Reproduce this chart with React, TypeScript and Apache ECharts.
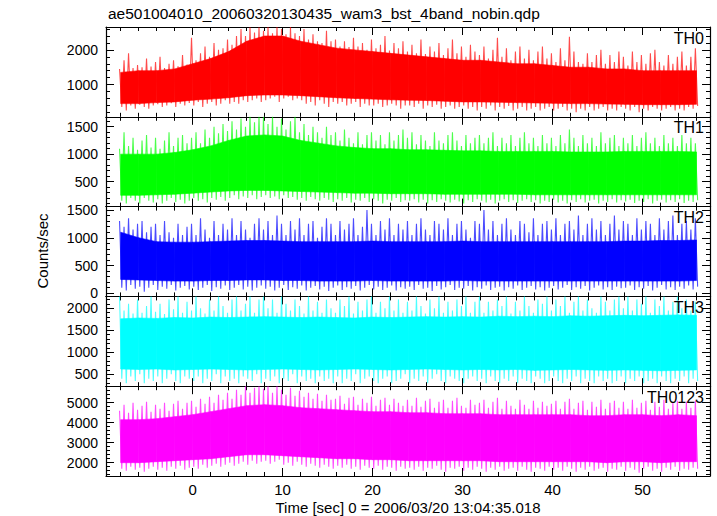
import React, { useEffect, useRef } from 'react';
import * as echarts from 'echarts';

const titleText = 'ae501004010_20060320130435_wam3_bst_4band_nobin.qdp';
const xTitle = 'Time [sec] 0 = 2006/03/20 13:04:35.018';
const yTitle = 'Counts/sec';
const bandNames = ['TH0', 'TH1', 'TH2', 'TH3', 'TH0123'];
const bandColors = ['#ff0000', '#00ff00', '#0000ff', '#00ffff', '#ff00ff'];

// tick values / labels
const xMajorTicks = [0, 10, 20, 30, 40, 50];
const xMinorTicks = [-8, -6, -4, -2, 0, 2, 4, 6, 8, 10, 12, 14, 16, 18, 20, 22, 24, 26, 28, 30, 32, 34, 36, 38, 40, 42, 44, 46, 48, 50, 52, 54, 56];
const th0MajorTicks = [1000, 2000];
const th1MajorTicks = [500, 1000, 1500];
const th2MajorTicks = [0, 500, 1000, 1500];
const th3MajorTicks = [500, 1000, 1500, 2000];
const th0123MajorTicks = [2000, 3000, 4000, 5000];
const th0MinorTicks = [200, 400, 600, 800, 1000, 1200, 1400, 1600, 1800, 2000, 2200, 2400, 2600];
const th1MinorTicks = [100, 200, 300, 400, 500, 600, 700, 800, 900, 1000, 1100, 1200, 1300, 1400, 1500, 1600];
const th2MinorTicks = [0, 100, 200, 300, 400, 500, 600, 700, 800, 900, 1000, 1100, 1200, 1300, 1400, 1500];
const th3MinorTicks = [300, 400, 500, 600, 700, 800, 900, 1000, 1100, 1200, 1300, 1400, 1500, 1600, 1700, 1800, 1900, 2000, 2100, 2200];
const th0123MinorTicks = [1400, 1600, 1800, 2000, 2200, 2400, 2600, 2800, 3000, 3200, 3400, 3600, 3800, 4000, 4200, 4400, 4600, 4800, 5000, 5200, 5400, 5600, 5800];

// axis ranges
const xMin = -9.63;
const xMax = 57.5;
const yMins = [70, 45, -56, 230, 1335];
const yMaxs = [2660, 1680, 1561, 2270, 5825];

// half-second envelope sampling times (upper / lower extremes)
const fineTimes = [
  -8, -7.5, -7, -6.5, -6, -5.5, -5, -4.5, -4, -3.5, -3, -2.5, -2, -1.5, -1, -0.5,
  0, 0.5, 1, 1.5, 2, 2.5, 3, 3.5, 4, 4.5, 5, 5.5, 6, 6.5, 7, 7.5,
  8, 8.5, 9, 9.5, 10, 10.5, 11, 11.5, 12, 12.5, 13, 13.5, 14, 14.5, 15, 15.5,
  16, 16.5, 17, 17.5, 18, 18.5, 19, 19.5, 20, 20.5, 21, 21.5, 22, 22.5, 23, 23.5,
  24, 24.5, 25, 25.5, 26, 26.5, 27, 27.5, 28, 28.5, 29, 29.5, 30, 30.5, 31, 31.5,
  32, 32.5, 33, 33.5, 34, 34.5, 35, 35.5, 36, 36.5, 37, 37.5, 38, 38.5, 39, 39.5,
  40, 40.5, 41, 41.5, 42, 42.5, 43, 43.5, 44, 44.5, 45, 45.5, 46, 46.5, 47, 47.5,
  48, 48.5, 49, 49.5, 50, 50.5, 51, 51.5, 52, 52.5, 53, 53.5, 54, 54.5, 55, 55.5,
  56];
// two-second sampling times of the dense core
const coreTimes = [-8, -6, -4, -2, 0, 2, 4, 6, 8, 10, 12, 14, 16, 18, 20, 22, 24, 26, 28, 30, 32, 34, 36, 38, 40, 42, 44, 46, 48, 50, 52, 54, 56];

// TH0
const th0Hi = [
  1450, 1700, 1900, 1480, 1560, 1500, 1750, 1520, 1650, 1800, 1480, 1600, 1700, 1530, 1850, 1580,
  2350, 1700, 1900, 2100, 1800, 2200, 2000, 2050, 2300, 2150, 2400, 2600, 2400, 2650, 2500, 2650,
  2550, 2660, 2480, 2660, 2600, 2450, 2660, 2480, 2400, 2600, 2300, 2450, 2250, 2200, 2550, 2250,
  2300, 2100, 2250, 2080, 2350, 2100, 2200, 2000, 2300, 2050, 2150, 2400, 1980, 2200, 2050, 2250,
  1950, 2150, 1900, 2300, 1880, 2100, 1950, 2200, 1850, 2050, 2300, 1900, 2100, 1800, 2150, 1950,
  1850, 2100, 1750, 2000, 2350, 1800, 2050, 1700, 1950, 2100, 1750, 2000, 1700, 1950, 2100, 1750,
  1900, 1650, 2050, 1700, 2380, 1950, 1650, 1600, 1900, 1650, 1850, 2000, 1600, 1850, 1650, 1950,
  1800, 1550, 1950, 1650, 1850, 1600, 1900, 2000, 1650, 1550, 1850, 1600, 1800, 1950, 1550, 1800,
  2050];
const th0Lo = [
  350, 250, 400, 300, 420, 350, 300, 400, 430, 350, 400, 460, 350, 450, 400, 470,
  400, 500, 350, 450, 500, 400, 450, 550, 450, 500, 450, 550, 500, 550, 600, 500,
  550, 600, 650, 500, 600, 650, 550, 600, 550, 450, 500, 400, 550, 450, 350, 500,
  450, 500, 400, 450, 500, 350, 450, 400, 400, 450, 350, 400, 450, 400, 300, 400,
  400, 350, 450, 300, 400, 350, 420, 300, 350, 400, 300, 350, 400, 300, 350, 250,
  350, 300, 400, 250, 350, 300, 380, 250, 300, 350, 250, 300, 350, 250, 300, 350,
  250, 300, 350, 250, 300, 200, 300, 250, 350, 250, 300, 350, 250, 300, 250, 350,
  300, 250, 350, 200, 300, 250, 350, 300, 250, 300, 350, 250, 300, 250, 350, 300,
  380];
const th0CoreHi = [1350, 1400, 1400, 1450, 1600, 1750, 1950, 2250, 2400, 2400,
  2250, 2150, 2050, 2000, 1950, 1900, 1850, 1800, 1750, 1700,
  1700, 1650, 1600, 1600, 1550, 1500, 1500, 1450, 1450, 1400,
  1400, 1400, 1400];
const th0CoreLo = [450, 450, 480, 500, 550, 580, 620, 680, 700, 700,
  680, 650, 620, 600, 580, 560, 550, 540, 520, 500,
  500, 490, 480, 470, 460, 450, 450, 440, 430, 420,
  420, 420, 430];

// TH1
const th1Hi = [
  1100, 1400, 1150, 1300, 1080, 1250, 1350, 1120, 1300, 1100, 1250, 1400, 1150, 1300, 1350, 1200,
  1300, 1400, 1200, 1450, 1300, 1500, 1380, 1550, 1420, 1600, 1450, 1650, 1500, 1680, 1580, 1680,
  1680, 1550, 1680, 1500, 1650, 1450, 1600, 1680, 1400, 1550, 1350, 1500, 1400, 1300, 1500, 1350,
  1400, 1250, 1450, 1300, 1200, 1400, 1180, 1350, 1400, 1250, 1350, 1180, 1400, 1250, 1350, 1450,
  1300, 1400, 1180, 1350, 1250, 1150, 1400, 1250, 1200, 1350, 1400, 1250, 1150, 1350, 1200, 1300,
  1350, 1200, 1300, 1400, 1150, 1300, 1200, 1350, 1150, 1300, 1400, 1200, 1300, 1150, 1350, 1200,
  1300, 1150, 1350, 1200, 1450, 1300, 1150, 1350, 1200, 1300, 1150, 1400, 1200, 1300, 1350, 1150,
  1300, 1200, 1350, 1150, 1300, 1400, 1200, 1300, 1150, 1350, 1200, 1300, 1150, 1350, 1200, 1300,
  1200];
const th1Lo = [
  150, 100, 200, 150, 100, 200, 150, 120, 180, 100, 150, 200, 130, 170, 100, 150,
  200, 150, 180, 120, 200, 170, 220, 150, 200, 250, 180, 230, 200, 250, 180, 220,
  250, 200, 230, 180, 250, 200, 220, 170, 200, 150, 220, 180, 150, 200, 170, 130,
  180, 150, 200, 120, 170, 150, 200, 130, 180, 150, 100, 170, 150, 200, 130, 160,
  150, 180, 120, 170, 100, 160, 130, 180, 150, 120, 170, 140, 100, 160, 130, 180,
  150, 120, 170, 100, 150, 180, 130, 160, 110, 150, 180, 130, 160, 100, 150, 130,
  170, 120, 150, 100, 160, 130, 180, 120, 150, 170, 100, 150, 130, 180, 120, 160,
  140, 170, 110, 150, 130, 180, 100, 150, 170, 120, 160, 130, 180, 110, 150, 130,
  160];
const th1CoreHi = [1000, 1000, 1000, 1030, 1080, 1150, 1250, 1330, 1350, 1330,
  1250, 1200, 1150, 1120, 1100, 1100, 1080, 1080, 1070, 1060,
  1060, 1050, 1050, 1050, 1050, 1040, 1040, 1040, 1050, 1050,
  1050, 1050, 1040];
const th1CoreLo = [250, 250, 260, 270, 290, 310, 330, 340, 340, 330,
  320, 310, 300, 290, 290, 280, 280, 280, 270, 270,
  270, 270, 270, 260, 260, 260, 260, 260, 260, 260,
  260, 260, 260];

// TH2
const th2Hi = [
  1300, 1200, 1350, 1150, 1250, 1300, 1100, 1200, 1250, 1050, 1300, 1100, 1000, 1250, 1050, 1200,
  1250, 1050, 1350, 1150, 1000, 1300, 1050, 1250, 1150, 1350, 1050, 1300, 1150, 1000, 1250, 1350,
  1150, 1300, 1050, 1400, 1250, 1050, 1300, 1150, 1350, 1050, 1250, 1300, 1000, 1200, 1350, 1250,
  1050, 1300, 1150, 1250, 1350, 1050, 1200, 1500, 1250, 1050, 1300, 1150, 1350, 1050, 1250, 1150,
  1300, 1050, 1250, 1350, 1150, 1050, 1300, 1250, 1150, 1350, 1050, 1250, 1300, 1150, 1000, 1300,
  1250, 1500, 1150, 1300, 1050, 1250, 1350, 1150, 1050, 1300, 1250, 1100, 1350, 1050, 1250, 1300,
  1150, 1350, 1050, 1250, 1300, 1150, 1400, 1050, 1250, 1350, 1150, 1300, 1050, 1250, 1400, 1150,
  1300, 1250, 1050, 1350, 1150, 1300, 1250, 1050, 1350, 1150, 1300, 1400, 1050, 1250, 1300, 1150,
  1350];
const th2Lo = [
  100, 50, 150, 80, 120, 30, 100, 150, 60, 120, 80, 150, 50, 100, 130, 70,
  120, 60, 100, 150, 40, 110, 80, 140, 60, 100, 150, 70, 120, 50, 100, 140,
  80, 120, 50, 100, 150, 60, 110, 80, 140, 50, 100, 130, 70, 120, 40, 100,
  140, 60, 110, 80, 130, 50, 100, 150, 70, 120, 60, 100, 140, 50, 110, 80,
  120, 60, 150, 80, 100, 40, 130, 70, 110, 150, 60, 100, 80, 130, 50, 110,
  80, 140, 60, 100, 120, 50, 110, 80, 140, 60, 100, 130, 70, 110, 50, 100,
  130, 70, 100, 150, 60, 110, 80, 130, 50, 100, 140, 70, 110, 60, 120, 90,
  100, 140, 60, 110, 80, 130, 50, 100, 150, 70, 110, 60, 120, 80, 140, 70,
  120];
const th2CoreHi = [1100, 1000, 930, 920, 920, 930, 940, 950, 950, 940,
  930, 930, 930, 930, 940, 930, 930, 930, 930, 940,
  930, 930, 930, 930, 930, 930, 930, 930, 940, 940,
  950, 950, 960];
const th2CoreLo = [250, 240, 230, 220, 220, 230, 230, 240, 240, 230,
  230, 220, 220, 220, 230, 220, 220, 220, 220, 230,
  220, 220, 220, 220, 220, 220, 220, 220, 220, 220,
  220, 220, 230];

// TH3
const th3Hi = [
  2270, 1950, 2100, 1880, 2200, 1900, 2050, 2270, 1920, 2100, 1870, 2200, 1980, 2270, 1900, 2150,
  1950, 2270, 2000, 1880, 2200, 1950, 2270, 2050, 1900, 2200, 2270, 1950, 2100, 2270, 1900, 2200,
  2270, 2000, 2200, 1900, 2270, 2100, 1950, 2200, 2050, 1880, 2270, 1950, 2150, 1900, 2200, 2000,
  1900, 2200, 2050, 2270, 1880, 2150, 1950, 2200, 2270, 1900, 2150, 2000, 2270, 1950, 2200, 1900,
  2150, 1950, 2270, 2050, 1880, 2200, 2000, 2270, 1900, 2150, 1950, 2200, 2050, 2270, 1900, 2150,
  2270, 1900, 2150, 1950, 2200, 2050, 2270, 1880, 2150, 1950, 2270, 2050, 1900, 2200, 2100, 2270,
  1950, 2200, 2050, 2270, 1900, 2150, 2270, 1950, 2200, 2000, 1900, 2270, 2150, 1950, 2200, 2270,
  2000, 2270, 1950, 2200, 2100, 2270, 1900, 2200, 2050, 2270, 1950, 2150, 2270, 2000, 2200, 1950,
  2150];
const th3Lo = [
  400, 300, 450, 350, 500, 300, 400, 350, 450, 300, 400, 500, 350, 300, 450, 400,
  350, 450, 300, 400, 350, 500, 300, 450, 350, 400, 300, 450, 400, 350, 500, 300,
  400, 350, 450, 300, 400, 350, 500, 300, 450, 350, 400, 300, 450, 350, 400, 300,
  450, 300, 400, 350, 500, 300, 400, 450, 350, 300, 400, 450, 300, 350, 400, 500,
  300, 400, 350, 450, 300, 400, 500, 350, 300, 450, 400, 350, 300, 400, 450, 350,
  400, 300, 450, 350, 300, 400, 350, 450, 300, 400, 350, 300, 450, 400, 300, 350,
  450, 350, 300, 400, 350, 450, 300, 400, 350, 300, 450, 350, 400, 300, 350, 450,
  300, 400, 350, 450, 300, 350, 400, 300, 450, 350, 300, 400, 350, 450, 300, 400,
  350];
const th3CoreHi = [1760, 1780, 1770, 1790, 1780, 1800, 1790, 1800, 1810, 1800,
  1790, 1800, 1790, 1780, 1800, 1790, 1800, 1810, 1800, 1810,
  1800, 1820, 1810, 1820, 1810, 1830, 1820, 1830, 1840, 1830,
  1840, 1850, 1840];
const th3CoreLo = [620, 610, 620, 600, 610, 620, 610, 600, 610, 620,
  610, 600, 610, 620, 610, 600, 610, 620, 610, 600,
  610, 600, 610, 590, 600, 610, 600, 590, 600, 590,
  580, 590, 600];

// TH0123
const th0123Hi = [
  4600, 4900, 4500, 5000, 4650, 4850, 5050, 4550, 4900, 4700, 5000, 4600, 4950, 5100, 4700, 5000,
  5100, 4800, 5200, 4950, 5300, 5000, 5400, 5150, 5500, 5200, 5650, 5400, 5825, 5500, 5750, 5825,
  5700, 5825, 5500, 5825, 5650, 5400, 5750, 5350, 5600, 5300, 5500, 5200, 5450, 5100, 5400, 5150,
  5200, 5350, 4950, 5250, 5300, 4900, 5200, 5000, 5300, 4850, 5150, 5250, 4900, 5200, 5000, 4850,
  5150, 4850, 5250, 4800, 5100, 5200, 4750, 5050, 5150, 4750, 5100, 5250, 4850, 4750, 5150, 4900,
  5000, 5150, 4750, 5050, 5250, 4700, 5100, 4850, 4700, 5150, 4900, 4700, 5100, 4750, 5050, 4850,
  4950, 5100, 4700, 5050, 5200, 4700, 5000, 5100, 4650, 5050, 4800, 5150, 4700, 5000, 5100, 4750,
  5050, 4700, 5150, 4750, 5000, 5100, 4650, 5050, 4800, 5150, 4700, 5000, 5100, 4700, 5050, 4750,
  5100];
const th0123Lo = [
  1700, 1600, 1800, 1650, 1750, 1550, 1700, 1800, 1650, 1750, 1600, 1800, 1700, 1850, 1650, 1750,
  1800, 1700, 1900, 1750, 1850, 1950, 1800, 1900, 2000, 1850, 1950, 2050, 1900, 2100, 1950, 2050,
  2100, 1950, 2050, 2150, 1900, 2000, 1850, 2050, 1900, 1800, 1950, 1850, 1750, 1900, 1800, 1700,
  1850, 1750, 1900, 1700, 1800, 1650, 1850, 1750, 1700, 1850, 1650, 1800, 1750, 1600, 1800, 1700,
  1750, 1650, 1800, 1600, 1750, 1700, 1850, 1650, 1550, 1750, 1700, 1800, 1600, 1750, 1650, 1800,
  1700, 1550, 1750, 1650, 1800, 1600, 1700, 1750, 1600, 1800, 1650, 1550, 1750, 1700, 1600, 1800,
  1650, 1750, 1600, 1800, 1700, 1550, 1750, 1650, 1800, 1600, 1700, 1750, 1550, 1700, 1650, 1800,
  1600, 1750, 1650, 1500, 1700, 1800, 1600, 1700, 1550, 1750, 1650, 1800, 1600, 1700, 1650, 1750,
  1700];
const th0123CoreHi = [4150, 4150, 4200, 4300, 4400, 4550, 4700, 4850, 4900, 4850,
  4750, 4700, 4650, 4600, 4550, 4550, 4500, 4500, 4450, 4450,
  4450, 4400, 4400, 4400, 4400, 4400, 4350, 4350, 4400, 4400,
  4350, 4400, 4350];
const th0123CoreLo = [2000, 2000, 2050, 2100, 2150, 2200, 2300, 2400, 2400, 2350,
  2300, 2250, 2200, 2200, 2150, 2150, 2100, 2100, 2100, 2100,
  2100, 2050, 2050, 2050, 2050, 2050, 2050, 2000, 2050, 2050,
  2000, 2050, 2050];

const hiSets = [th0Hi, th1Hi, th2Hi, th3Hi, th0123Hi];
const loSets = [th0Lo, th1Lo, th2Lo, th3Lo, th0123Lo];
const coreHiSets = [th0CoreHi, th1CoreHi, th2CoreHi, th3CoreHi, th0123CoreHi];
const coreLoSets = [th0CoreLo, th1CoreLo, th2CoreLo, th3CoreLo, th0123CoreLo];
const yMajorSets = [th0MajorTicks, th1MajorTicks, th2MajorTicks, th3MajorTicks, th0123MajorTicks];
const yMinorSets = [th0MinorTicks, th1MinorTicks, th2MinorTicks, th3MinorTicks, th0123MinorTicks];

const FONT_FAMILY = 'Liberation Sans, Arial, Helvetica, sans-serif';

function buildOption() {
  const gridLeft = 106;
  const gridRight = 710;
  const gridTop = 27;
  const panelH = 89.8;
  const grids: any[] = [];
  const xAxes: any[] = [];
  const yAxes: any[] = [];
  const series: any[] = [];
  const graphics: any[] = [];
  const black = '#000';
  const minorLen = 4;
  const majorLen = 8;
  const plain = (v: number) => String(v);

  const tickStyle = { color: black, width: 1 };
  const frameStyle = { color: black, width: 1.2 };

  for (let i = 0; i < 5; i++) {
    grids.push({
      left: gridLeft,
      width: gridRight - gridLeft,
      top: gridTop + i * panelH,
      height: panelH,
      containLabel: false,
      outerBoundsMode: 'none',
    });
    const xBase = {
      type: 'value', gridIndex: i, min: xMin, max: xMax,
      splitLine: { show: false }, minorTick: { show: false },
    };
    const xMinorAxis = (position: string, withLine: boolean) => ({
      ...xBase, position,
      axisLine: { show: withLine, onZero: false, lineStyle: frameStyle },
      axisTick: { show: true, inside: true, length: minorLen, lineStyle: tickStyle, customValues: xMinorTicks },
      axisLabel: { show: false },
    });
    const xMajorAxis = (position: string, withLabels: boolean) => ({
      ...xBase, position,
      axisLine: { show: false, onZero: false },
      axisTick: { show: true, inside: true, length: majorLen, lineStyle: tickStyle, customValues: xMajorTicks },
      axisLabel: {
        show: withLabels, customValues: xMajorTicks, formatter: plain, margin: 6, fontSize: 15, color: black,
        fontFamily: FONT_FAMILY,
      },
    });
    xAxes.push(xMinorAxis('bottom', true));
    xAxes.push(xMajorAxis('bottom', i === 4));
    xAxes.push(xMinorAxis('top', true));
    xAxes.push(xMajorAxis('top', false));

    const yBase = {
      type: 'value', gridIndex: i, min: yMins[i], max: yMaxs[i],
      splitLine: { show: false }, minorTick: { show: false },
    };
    const yMinorAxis = (position: string) => ({
      ...yBase, position,
      axisLine: { show: true, onZero: false, lineStyle: frameStyle },
      axisTick: { show: true, inside: true, length: minorLen, lineStyle: tickStyle, customValues: yMinorSets[i] },
      axisLabel: { show: false },
    });
    const yMajorAxis = (position: string, withLabels: boolean) => ({
      ...yBase, position,
      axisLine: { show: false, onZero: false },
      axisTick: { show: true, inside: true, length: majorLen, lineStyle: tickStyle, customValues: yMajorSets[i] },
      axisLabel: {
        show: withLabels, customValues: yMajorSets[i], formatter: plain, margin: 8, fontSize: 14, color: black,
        fontFamily: FONT_FAMILY, lineHeight: 13,
      },
    });
    yAxes.push(yMinorAxis('left'));
    yAxes.push(yMajorAxis('left', true));
    yAxes.push(yMinorAxis('right'));
    yAxes.push(yMajorAxis('right', false));

    const hi = hiSets[i];
    const lo = loSets[i];
    const zig: number[][] = [];
    for (let j = 0; j < fineTimes.length; j++) {
      zig.push([fineTimes[j] - 0.125, hi[j]]);
      zig.push([fineTimes[j] + 0.125, lo[j]]);
    }
    const color = bandColors[i];
    series.push({
      type: 'line', name: bandNames[i] + ' extremes', xAxisIndex: 4 * i, yAxisIndex: 4 * i,
      data: zig, showSymbol: false, symbol: 'none', clip: true,
      lineStyle: { color, width: 1.1, opacity: 0.7 }, z: 2,
    });
    const cHi = coreHiSets[i];
    const cLo = coreLoSets[i];
    series.push({
      type: 'custom', name: bandNames[i], xAxisIndex: 4 * i, yAxisIndex: 4 * i, clip: true, z: 3,
      data: coreTimes.map((t, j) => [t, cLo[j], cHi[j]]),
      renderItem: (params: any, api: any) => {
        const j = params.dataIndex;
        if (j >= coreTimes.length - 1) return null;
        const a = api.coord([coreTimes[j], cHi[j]]);
        const b = api.coord([coreTimes[j + 1], cHi[j + 1]]);
        const c = api.coord([coreTimes[j + 1], cLo[j + 1]]);
        const d = api.coord([coreTimes[j], cLo[j]]);
        return {
          type: 'polygon',
          shape: { points: [a, b, c, d] },
          style: { fill: color, stroke: color, lineWidth: 0.6 },
        };
      },
    });

    graphics.push({
      type: 'text', right: 717 - 704, top: gridTop + i * panelH + 3,
      style: { text: bandNames[i], font: `16px ${FONT_FAMILY}`, fill: black },
      z: 100,
    });
  }

  graphics.push({
    type: 'text', left: 108, top: 5,
    style: { text: titleText, font: `15.5px ${FONT_FAMILY}`, fill: '#000' },
  });
  graphics.push({
    type: 'text', x: 408, y: 507,
    style: {
      text: xTitle, font: `15px ${FONT_FAMILY}`, fill: '#000',
      x: 0, y: 0, textAlign: 'center', textVerticalAlign: 'middle', align: 'center', verticalAlign: 'middle',
    },
  });
  graphics.push({
    type: 'text', x: 42, y: 251, rotation: Math.PI / 2,
    style: {
      text: yTitle, font: `15px ${FONT_FAMILY}`, fill: '#000',
      x: 0, y: 0, textAlign: 'center', textVerticalAlign: 'middle', align: 'center', verticalAlign: 'middle',
    },
  });

  return {
    animation: false,
    backgroundColor: '#fff',
    grid: grids,
    xAxis: xAxes,
    yAxis: yAxes,
    series,
    graphic: graphics,
  };
}

export default function App() {
  const ref = useRef<HTMLDivElement>(null);
  useEffect(() => {
    if (!ref.current) return;
    const chart = echarts.init(ref.current, null, { renderer: 'svg' });
    chart.setOption(buildOption() as any);
    return () => chart.dispose();
  }, []);
  return (
    <div
      ref={ref}
      style={{ position: 'fixed', left: 0, top: 0, width: 717, height: 516, background: '#fff' }}
    />
  );
}
